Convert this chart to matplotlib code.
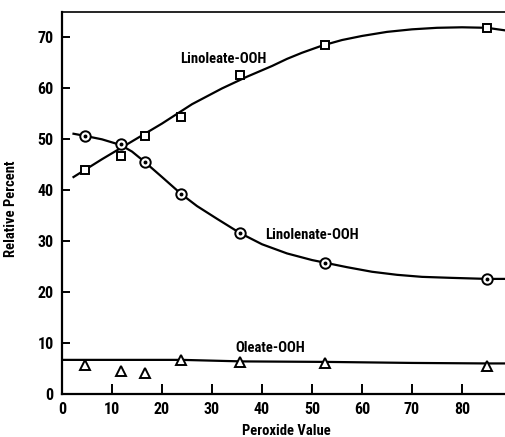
import matplotlib.pyplot as plt

# measured points
peroxide = [4.5, 11.7, 16.6, 23.8, 35.6, 52.6, 85.0]
linoleate = [43.9, 46.7, 50.6, 54.4, 62.7, 68.6, 71.9]
linolenate = [50.6, 49.0, 45.5, 39.3, 31.6, 25.8, 22.6]
oleate = [5.7, 4.6, 4.1, 6.7, 6.2, 6.0, 5.5]

# hand-drawn trend curves
linoleate_fit_x = [2.3, 8, 14, 20, 26, 32, 37, 42, 45, 48, 52, 56, 60, 65, 70, 75, 80, 85, 88.6]
linoleate_fit_y = [42.6, 46.1, 49.6, 53.1, 56.9, 60.0, 62.3, 64.4, 65.8, 67.0, 68.4, 69.5, 70.3, 71.1, 71.6, 71.9, 72.0, 71.9, 71.4]
linolenate_fit_x = [2.3, 4.5, 8, 11.7, 14, 16.5, 20, 23.8, 27, 31, 35.6, 40, 45, 50, 52.5, 57, 62, 67, 72, 78, 85, 88.6]
linolenate_fit_y = [51.1, 50.7, 50.0, 48.9, 47.6, 45.6, 42.6, 39.3, 36.9, 34.4, 31.6, 29.4, 27.6, 26.3, 25.8, 24.9, 24.0, 23.4, 23.0, 22.8, 22.6, 22.6]
oleate_fit_x = [0, 24, 36, 53, 70, 85, 88.6]
oleate_fit_y = [6.7, 6.7, 6.4, 6.3, 6.1, 6.0, 6.0]

xticks = [0, 10, 20, 30, 40, 50, 60, 70, 80]
yticks = [0, 10, 20, 30, 40, 50, 60, 70]

plt.rcParams['font.family'] = ['Roboto Condensed', 'Liberation Sans Narrow', 'DejaVu Sans']
plt.rcParams['font.stretch'] = 'condensed'
plt.rcParams['font.weight'] = 'bold'
plt.rcParams['axes.labelweight'] = 'bold'

fig = plt.figure(figsize=(5.05, 4.37), dpi=100)
ax = fig.add_axes([0.1228, 0.0984, 0.8772, 0.8741])

ax.plot(linoleate_fit_x, linoleate_fit_y, color='black', lw=1.6, zorder=2)
ax.plot(linolenate_fit_x, linolenate_fit_y, color='black', lw=1.6, zorder=2)
ax.plot(oleate_fit_x, oleate_fit_y, color='black', lw=1.6, zorder=2)

ax.plot(peroxide, linoleate, ls='none', marker='s', ms=6, mfc='white', mec='black', mew=1.4, zorder=3)
ax.plot(peroxide, linolenate, ls='none', marker='o', ms=7.5, mfc='white', mec='black', mew=1.4, zorder=3)
ax.plot(peroxide, linolenate, ls='none', marker='o', ms=1.8, color='black', zorder=4)
ax.plot(peroxide, oleate, ls='none', marker='^', ms=6.5, mfc='white', mec='black', mew=1.4, zorder=3)

ax.text(23.6, 65.8, 'Linoleate-OOH', fontsize=10.5, va='center', ha='left')
ax.text(40.6, 31.2, 'Linolenate-OOH', fontsize=10.5, va='center', ha='left')
ax.text(34.6, 9.0, 'Oleate-OOH', fontsize=10.5, va='center', ha='left')

ax.set_xlim(0, 88.6)
ax.set_ylim(0, 75)
ax.set_xticks(xticks)
ax.set_yticks(yticks)
ax.tick_params(axis='x', direction='in', length=7, width=1.4, pad=6, labelsize=11.5)
ax.tick_params(axis='y', direction='in', length=6, width=1.4, pad=6, labelsize=11.5)

ax.spines['right'].set_visible(False)
for side in ['left', 'bottom']:
    ax.spines[side].set_linewidth(1.6)
ax.spines['top'].set_linewidth(1.2)

ax.set_xlabel('Peroxide Value', fontsize=10.5)
ax.set_ylabel('Relative Percent', fontsize=10.5)
ax.xaxis.set_label_coords(0.506, -0.079)
ax.yaxis.set_label_coords(-0.099, 0.484)

fig.savefig('out.png', dpi=100)
